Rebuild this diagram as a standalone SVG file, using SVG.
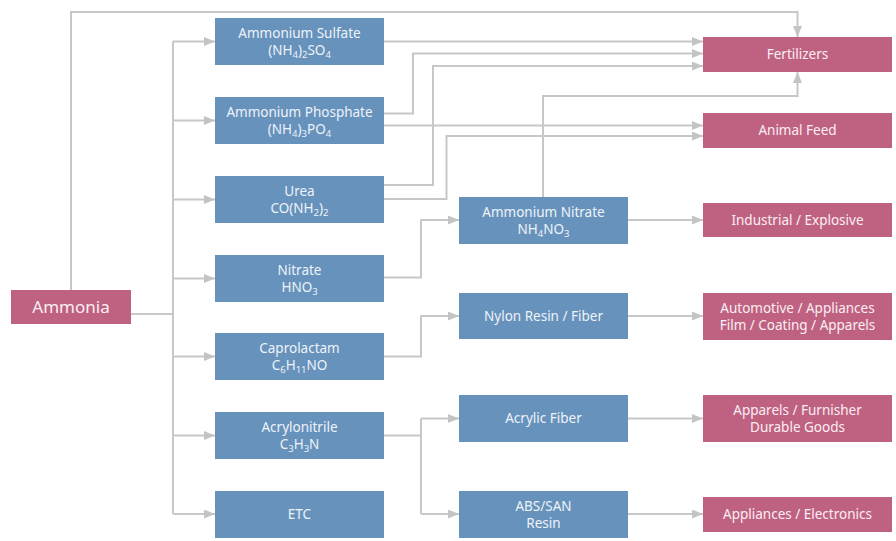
<svg xmlns="http://www.w3.org/2000/svg" width="896" height="541" viewBox="0 0 896 541">
<style>
.b{fill:#6792bc}
.p{fill:#bf6282}
text{font-family:"Noto Sans","Open Sans",sans-serif;font-size:13.5px;fill:#eef3f9;text-anchor:middle}
.pt{fill:#fbeef2}
.c{fill:none;stroke:#c8c8c8;stroke-width:2}
.s{font-size:9.5px}
</style>
<defs>
<marker id="a" markerUnits="userSpaceOnUse" markerWidth="12" markerHeight="10" refX="11" refY="4.5" orient="auto">
<path d="M0,0 L11,4.5 L0,9 z" fill="#c4c4c4"/>
</marker>
</defs>
<rect width="896" height="541" fill="#fff"/>
<g id="connectors">
<path class="c" d="M71,290 V12 H797.5 V37" marker-end="url(#a)"/>
<path class="c" d="M131,314 H173"/>
<path class="c" d="M173,41.5 V514"/>
<path class="c" d="M173,41.5 H215" marker-end="url(#a)"/>
<path class="c" d="M173,120.5 H215" marker-end="url(#a)"/>
<path class="c" d="M173,199.5 H215" marker-end="url(#a)"/>
<path class="c" d="M173,278.5 H215" marker-end="url(#a)"/>
<path class="c" d="M173,356.5 H215" marker-end="url(#a)"/>
<path class="c" d="M173,435.5 H215" marker-end="url(#a)"/>
<path class="c" d="M173,514 H215" marker-end="url(#a)"/>
<path class="c" d="M384,41.5 H703" marker-end="url(#a)"/>
<path class="c" d="M384,113.5 H413 V53.5 H703" marker-end="url(#a)"/>
<path class="c" d="M384,125.5 H703" marker-end="url(#a)"/>
<path class="c" d="M384,185 H433 V66 H703" marker-end="url(#a)"/>
<path class="c" d="M384,199 H446.5 V136 H703" marker-end="url(#a)"/>
<path class="c" d="M543,197 V96 H797.5 V72" marker-end="url(#a)"/>
<path class="c" d="M384,277.5 H421 V220 H459" marker-end="url(#a)"/>
<path class="c" d="M384,356.5 H421 V316 H459" marker-end="url(#a)"/>
<path class="c" d="M384,435.5 H421"/>
<path class="c" d="M421,418.5 V514"/>
<path class="c" d="M421,418.5 H459" marker-end="url(#a)"/>
<path class="c" d="M421,514 H459" marker-end="url(#a)"/>
<path class="c" d="M628,220 H703" marker-end="url(#a)"/>
<path class="c" d="M628,316 H703" marker-end="url(#a)"/>
<path class="c" d="M628,418.5 H703" marker-end="url(#a)"/>
<path class="c" d="M628,514 H703" marker-end="url(#a)"/>
</g>
<g id="ammonia"><rect class="p" x="11" y="290" width="120" height="34"/><text class="pt" x="71" y="313" style="font-size:17px">Ammonia</text></g>
<g id="sulfate"><rect class="b" x="215" y="18" width="169" height="47"/><text x="299.5" y="38">Ammonium Sulfate<tspan x="299.5" dy="17">(NH</tspan><tspan class="s" dy="2.5">4</tspan><tspan dy="-2.5">)</tspan><tspan class="s" dy="2.5">2</tspan><tspan dy="-2.5">SO</tspan><tspan class="s" dy="2.5">4</tspan></text></g>
<g id="phosphate"><rect class="b" x="215" y="97" width="169" height="47"/><text x="299.5" y="117">Ammonium Phosphate<tspan x="299.5" dy="17">(NH</tspan><tspan class="s" dy="2.5">4</tspan><tspan dy="-2.5">)</tspan><tspan class="s" dy="2.5">3</tspan><tspan dy="-2.5">PO</tspan><tspan class="s" dy="2.5">4</tspan></text></g>
<g id="urea"><rect class="b" x="215" y="176" width="169" height="47"/><text x="299.5" y="196">Urea<tspan x="299.5" dy="17">CO(NH</tspan><tspan class="s" dy="2.5">2</tspan><tspan dy="-2.5">)</tspan><tspan class="s" dy="2.5">2</tspan></text></g>
<g id="nitrate"><rect class="b" x="215" y="255" width="169" height="47"/><text x="299.5" y="275">Nitrate<tspan x="299.5" dy="17">HNO</tspan><tspan class="s" dy="2.5">3</tspan></text></g>
<g id="caprolactam"><rect class="b" x="215" y="333" width="169" height="47"/><text x="299.5" y="353">Caprolactam<tspan x="299.5" dy="17">C</tspan><tspan class="s" dy="2.5">6</tspan><tspan dy="-2.5">H</tspan><tspan class="s" dy="2.5">11</tspan><tspan dy="-2.5">NO</tspan></text></g>
<g id="acrylonitrile"><rect class="b" x="215" y="412" width="169" height="47"/><text x="299.5" y="432">Acrylonitrile<tspan x="299.5" dy="17">C</tspan><tspan class="s" dy="2.5">3</tspan><tspan dy="-2.5">H</tspan><tspan class="s" dy="2.5">3</tspan><tspan dy="-2.5">N</tspan></text></g>
<g id="etc"><rect class="b" x="215" y="491" width="169" height="47"/><text x="299.5" y="519">ETC</text></g>
<g id="ammonium-nitrate"><rect class="b" x="459" y="197" width="169" height="47"/><text x="543.5" y="217">Ammonium Nitrate<tspan x="543.5" dy="17">NH</tspan><tspan class="s" dy="2.5">4</tspan><tspan dy="-2.5">NO</tspan><tspan class="s" dy="2.5">3</tspan></text></g>
<g id="nylon"><rect class="b" x="459" y="293" width="169" height="46"/><text x="543.5" y="321">Nylon Resin / Fiber</text></g>
<g id="acrylic"><rect class="b" x="459" y="395" width="169" height="47"/><text x="543.5" y="423">Acrylic Fiber</text></g>
<g id="abs"><rect class="b" x="459" y="491" width="169" height="47"/><text x="543.5" y="511">ABS/SAN<tspan x="543.5" dy="17">Resin</tspan></text></g>
<g id="fertilizers"><rect class="p" x="703" y="37" width="189" height="35"/><text class="pt" x="797.5" y="59">Fertilizers</text></g>
<g id="animal-feed"><rect class="p" x="703" y="113" width="189" height="35"/><text class="pt" x="797.5" y="135">Animal Feed</text></g>
<g id="industrial"><rect class="p" x="703" y="203" width="189" height="34"/><text class="pt" x="797.5" y="225">Industrial / Explosive</text></g>
<g id="automotive"><rect class="p" x="703" y="293" width="189" height="47"/><text class="pt" x="797.5" y="313">Automotive / Appliances<tspan x="797.5" dy="17">Film / Coating / Apparels</tspan></text></g>
<g id="apparels"><rect class="p" x="703" y="395" width="189" height="47"/><text class="pt" x="797.5" y="415">Apparels / Furnisher<tspan x="797.5" dy="17">Durable Goods</tspan></text></g>
<g id="appliances"><rect class="p" x="703" y="497" width="189" height="35"/><text class="pt" x="797.5" y="519">Appliances / Electronics</text></g>
</svg>
